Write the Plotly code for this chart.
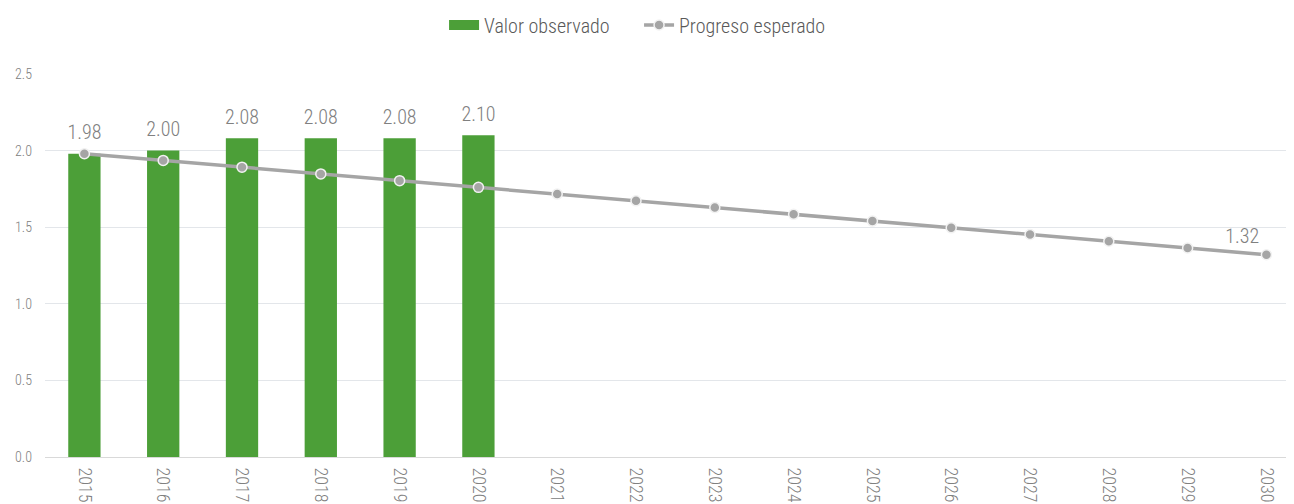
import plotly.graph_objects as go

years = [str(y) for y in range(2015, 2031)]
obs_years = ["2015", "2016", "2017", "2018", "2019", "2020"]
observed = [1.98, 2.00, 2.08, 2.08, 2.08, 2.10]
expected = [1.98, 1.936, 1.892, 1.848, 1.804, 1.76, 1.716, 1.672, 1.628,
            1.584, 1.54, 1.496, 1.452, 1.408, 1.364, 1.32]
y_ticks = [0.0, 0.5, 1.0, 1.5, 2.0, 2.5]

FONT = "Roboto Condensed, DejaVu Sans Condensed, sans-serif"
GREY = "#808080"
GREEN = "#4C9F38"
LINEGREY = "#a5a5a5"

fig = go.Figure()
fig.add_trace(go.Bar(
    x=obs_years, y=observed, name="Valor observado", showlegend=False,
    marker=dict(color=GREEN, line=dict(width=0)),
    width=0.41,
))
# legend-only entry with a wide bar swatch
fig.add_trace(go.Scatter(
    x=[None], y=[None], mode="lines", name="Valor observado",
    line=dict(color=GREEN, width=14),
))
fig.add_trace(go.Scatter(
    x=years, y=expected, name="Progreso esperado", mode="lines+markers",
    line=dict(color=LINEGREY, width=3.5),
    marker=dict(size=10, color=LINEGREY, line=dict(color="#f2f2f2", width=1.5)),
    cliponaxis=False,
))
# bar value labels
fig.add_trace(go.Scatter(
    x=obs_years, y=observed, mode="markers+text", showlegend=False, hoverinfo="skip",
    marker=dict(size=14, opacity=0),
    text=[f"{v:.2f}" for v in observed], textposition="top center",
    textfont=dict(size=20, color=GREY, family=FONT, weight=300),
    cliponaxis=False,
))
# last expected value label
fig.add_trace(go.Scatter(
    x=years[-1:], y=expected[-1:], mode="markers+text", showlegend=False, hoverinfo="skip",
    marker=dict(size=10, opacity=0),
    text=[f"{expected[-1]:.2f}"], textposition="top left",
    textfont=dict(size=20, color=GREY, family=FONT, weight=300),
    cliponaxis=False,
))

fig.update_layout(
    width=1286, height=496,
    margin=dict(l=37, r=0, t=66, b=47, autoexpand=False),
    plot_bgcolor="white", paper_bgcolor="white",
    font=dict(family=FONT, color=GREY, weight=300),
    legend=dict(orientation="h", x=0.3195, xanchor="left", y=1.128, yanchor="middle",
                font=dict(size=20, color="#595959", family=FONT, weight=300),
                traceorder="normal", entrywidth=150),
    showlegend=True,
)
fig.update_xaxes(type="category", categoryorder="array", categoryarray=years,
                 range=[-0.5, 15.35], tickangle=90, showgrid=False,
                 tickfont=dict(size=18, color=GREY, family=FONT, weight=300),
                 showline=True, linecolor="#d9d9d9", ticks="", automargin=False,
                 ticklabelstandoff=6)
fig.update_yaxes(range=[0, 2.5], tickvals=y_ticks,
                 ticktext=[f"{v:.1f}" for v in y_ticks],
                 showgrid=True, gridcolor="#e3e6ea", gridwidth=1,
                 zeroline=False, tickfont=dict(size=14, color=GREY, family=FONT, weight=300),
                 ticklabelstandoff=12, automargin=False)

fig.write_html("out.html")
